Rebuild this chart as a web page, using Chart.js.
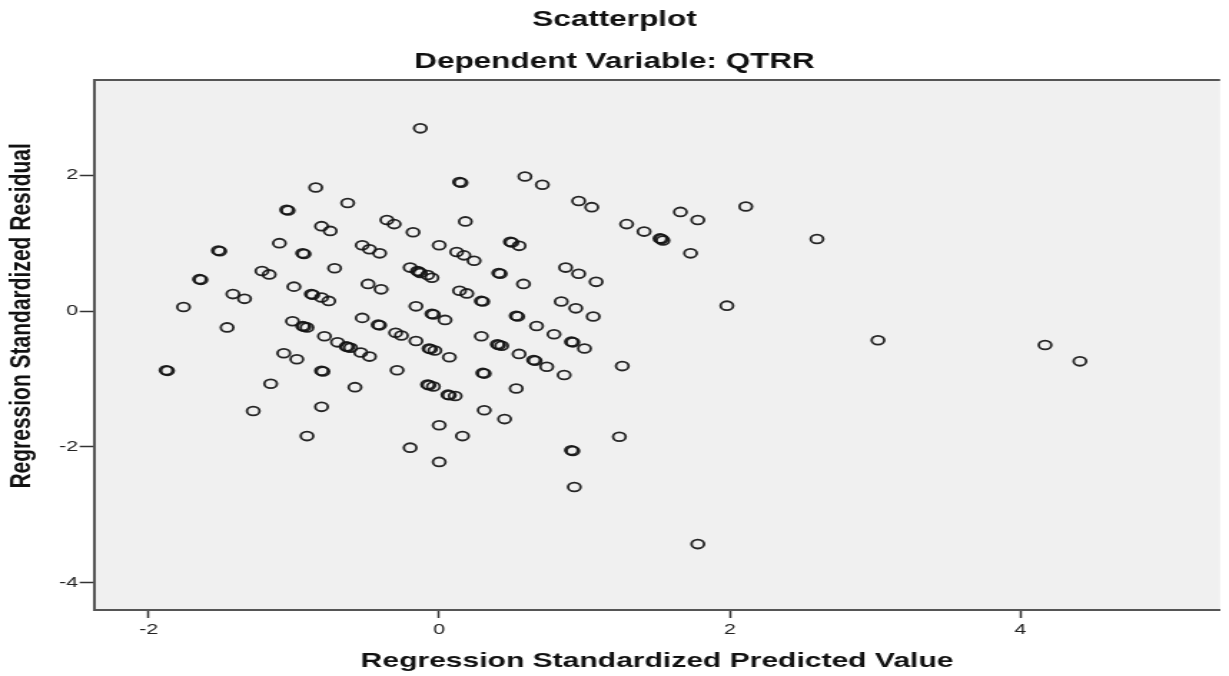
<!DOCTYPE html>
<html>
<head>
<meta charset="utf-8">
<script src="https://cdn.jsdelivr.net/npm/chart.js@4.4.1/dist/chart.umd.min.js"></script>
<style>
  html, body { margin: 0; padding: 0; background: #fff; overflow: hidden; }
  /* the reference is a horizontally stretched SPSS plot */
  #wrap { width: 859px; height: 676px; transform: scaleX(1.4307); transform-origin: 0 0; }
</style>
</head>
<body>
<div id="wrap"><canvas id="residChart"></canvas></div>
<script>
// Regression Standardized Predicted Value (x) / Regression Standardized Residual (y)
const predicted = [
  -1.88, -1.87, -1.76, -1.65, -1.64, -1.52, -1.51, -1.46, -1.42, -1.34, -1.28, -1.22, -1.17, -1.16,
  -1.10, -1.07, -1.05, -1.04, -1.00, -1.01, -0.98, -0.94, -0.93, -0.91, -0.94, -0.93, -0.91, -0.88,
  -0.87, -0.85, -0.81, -0.81, -0.81, -0.80, -0.81, -0.76, -0.75, -0.72, -0.79, -0.70, -0.64, -0.63,
  -0.61, -0.63, -0.58, -0.54, -0.53, -0.53, -0.49, -0.48, -0.48, -0.42, -0.41, -0.41, -0.40, -0.36,
  -0.31, -0.30, -0.26, -0.29, -0.20, -0.18, -0.20, -0.15, -0.14, -0.13, -0.08, -0.05, -0.13, -0.16,
  -0.16, -0.07, -0.06, -0.03, 0.07, -0.08, -0.07, -0.04, 0.00, 0.00, 0.00, -0.05, -0.04, 0.04,
  0.06, 0.07, 0.11, 0.12, 0.17, 0.24, 0.14, 0.15, 0.14, 0.16, 0.18, 0.19, 0.29, 0.30, 0.29,
  0.30, 0.31, 0.31, 0.40, 0.41, 0.43, 0.41, 0.42, 0.45, 0.49, 0.50, 0.55, 0.53, 0.54, 0.53, 0.55,
  0.58, 0.59, 0.65, 0.66, 0.67, 0.71, 0.74, 0.79, 0.87, 0.84, 0.86, 0.91, 0.92, 0.91, 0.92, 0.93,
  0.94, 0.96, 0.96, 1.00, 1.05, 1.06, 1.08, 1.26, 1.24, 1.29, 1.41, 1.52, 1.53, 1.54, 1.66, 1.78,
  1.73, 1.78, 1.98, 2.11, 2.60, 3.02, 4.17, 4.41
];
const residual = [
  -0.87, -0.88, 0.06, 0.47, 0.46, 0.89, 0.88, -0.24, 0.25, 0.18, -1.47, 0.59, 0.54, -1.07,
  1.00, -0.62, 1.49, 1.48, 0.36, -0.15, -0.71, -0.22, -0.23, -0.24, 0.85, 0.84, -1.84, 0.25,
  0.24, 1.82, 0.20, 1.25, -0.88, -0.89, -1.41, 0.15, 1.18, 0.63, -0.37, -0.46, -0.52, -0.53,
  -0.54, 1.59, -1.12, -0.61, -0.10, 0.97, 0.40, -0.67, 0.91, -0.20, -0.21, 0.85, 0.32, 1.34,
  1.28, -0.32, -0.36, -0.87, -2.01, 1.16, 0.64, 0.59, 0.58, 0.56, 0.53, 0.49, 2.69, 0.07,
  -0.44, -0.55, -0.56, -0.58, -0.68, -1.08, -1.09, -1.11, 0.97, -1.68, -2.22, -0.04, -0.05, -0.13,
  -1.23, -1.24, -1.25, 0.87, 0.82, 0.74, 1.90, 1.89, 0.30, -1.84, 1.32, 0.26, 0.15, 0.14, -0.37,
  -0.91, -0.92, -1.46, -0.49, -0.50, -0.51, 0.56, 0.55, -1.59, 1.02, 1.01, 0.96, -0.07, -0.08, -1.14, -0.63,
  0.40, 1.98, -0.72, -0.73, -0.22, 1.86, -0.82, -0.34, 0.64, 0.14, -0.94, -0.45, -0.46, -2.05, -2.06, -2.59,
  0.04, 0.55, 1.62, -0.55, 1.53, -0.08, 0.43, -0.81, -1.85, 1.28, 1.17, 1.07, 1.06, 1.04, 1.46, 1.34,
  0.85, -3.43, 0.08, 1.54, 1.06, -0.43, -0.50, -0.74
];
const xTicks = [-2, 0, 2, 4];
const yTicks = [-4, -2, 0, 2];
const yTitle = 'Regression Standardized Residual';

const points = predicted.map((x, i) => ({ x: x, y: residual[i] }));

const fontFamily = '"Liberation Sans", Arial, sans-serif';

// grey plot area, top frame line and the (off-centre) y axis title
const plotFrame = {
  id: 'plotFrame',
  beforeDraw(chart) {
    const { ctx, chartArea: a } = chart;
    ctx.save();
    ctx.fillStyle = '#f0f0f0';
    ctx.fillRect(a.left, a.top, a.right - a.left, a.bottom - a.top);
    ctx.strokeStyle = '#555';
    ctx.lineWidth = 2;
    ctx.beginPath();
    ctx.moveTo(a.left, a.top);
    ctx.lineTo(a.right, a.top);
    ctx.stroke();
    ctx.restore();
  },
  afterDraw(chart) {
    const { ctx, chartArea: a } = chart;
    ctx.save();
    ctx.translate(15.6, a.top + (a.bottom - a.top) * 0.445);
    ctx.rotate(-Math.PI / 2);
    ctx.font = 'bold 21px ' + fontFamily;
    ctx.fillStyle = '#111';
    ctx.textAlign = 'center';
    ctx.textBaseline = 'middle';
    ctx.fillText(yTitle, 0, 0);
    ctx.restore();
  }
};

new Chart(document.getElementById('residChart'), {
  type: 'scatter',
  data: {
    datasets: [{
      label: 'Residuals',
      data: points,
      pointStyle: 'circle',
      pointRadius: 4.4,
      pointHoverRadius: 4.4,
      borderWidth: 1.8,
      borderColor: 'rgba(20,20,20,0.92)',
      backgroundColor: 'rgba(0,0,0,0)'
    }]
  },
  options: {
    responsive: true,
    maintainAspectRatio: false,
    animation: false,
    layout: { padding: 0 },
    plugins: {
      legend: { display: false },
      tooltip: { enabled: false },
      title: {
        display: true,
        text: 'Scatterplot',
        color: '#111',
        font: { family: fontFamily, size: 22, weight: 'bold' },
        padding: { top: 7, bottom: 5 }
      },
      subtitle: {
        display: true,
        text: 'Dependent Variable: QTRR',
        color: '#111',
        font: { family: fontFamily, size: 22, weight: 'bold' },
        padding: { top: 10.5, bottom: 4.8 }
      }
    },
    scales: {
      x: {
        type: 'linear',
        min: -2.376,
        max: 5.375,
        afterBuildTicks: (scale) => { scale.ticks = xTicks.map(v => ({ value: v })); },
        afterFit: (scale) => { scale.height = 66; },
        grid: { drawOnChartArea: false, tickLength: 8, tickColor: '#333', tickWidth: 1.5 },
        border: { color: '#555', width: 2 },
        ticks: { color: '#222', padding: 3, font: { family: fontFamily, size: 15 } },
        title: {
          display: true,
          text: 'Regression Standardized Predicted Value',
          color: '#111',
          font: { family: fontFamily, size: 21, weight: 'bold' },
          padding: { top: 0, bottom: 2 }
        }
      },
      y: {
        type: 'linear',
        min: -4.40,
        max: 3.40,
        afterBuildTicks: (scale) => { scale.ticks = yTicks.map(v => ({ value: v })); },
        afterFit: (scale) => { scale.width = 65.7; },
        grid: { drawOnChartArea: false, tickLength: 10, tickColor: '#333', tickWidth: 1.5 },
        border: { color: '#555', width: 2 },
        ticks: { color: '#222', padding: 1, font: { family: fontFamily, size: 15 } },
        title: { display: false }
      }
    }
  },
  plugins: [plotFrame]
});
</script>
</body>
</html>
